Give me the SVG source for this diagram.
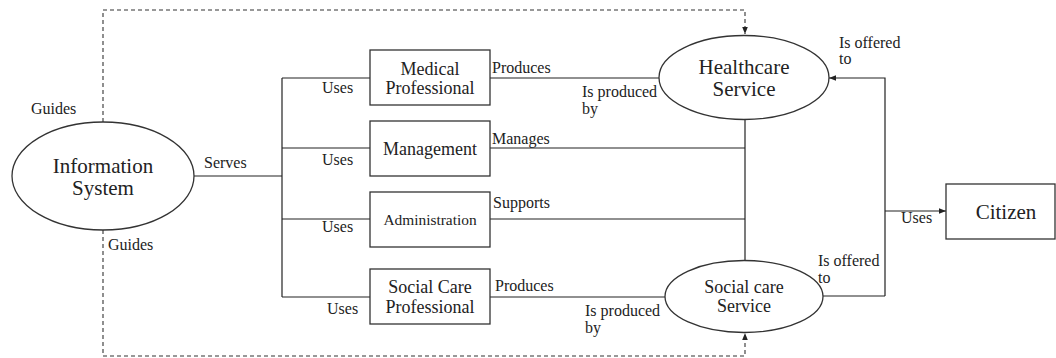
<svg xmlns="http://www.w3.org/2000/svg" width="1056" height="358" viewBox="0 0 1056 358">
<style>
.s{fill:none;stroke:#222;stroke-width:1.2}
.d{fill:none;stroke:#333;stroke-width:1.1;stroke-dasharray:4,3}
.n{fill:#fff;stroke:#333;stroke-width:1.3}
text{font-family:"Liberation Serif","Times New Roman",serif;fill:#222}
.l{font-size:16px}
.b{font-size:18px;text-anchor:middle}
.e{font-size:21px;text-anchor:middle}
</style>
<defs>
<marker id="a" viewBox="0 0 10 10" refX="10" refY="5" markerWidth="7" markerHeight="7" orient="auto" markerUnits="userSpaceOnUse"><path d="M0,1 L10,5 L0,9 z" fill="#222"/></marker>
</defs>
<g id="connectors">
<path class="d" d="M103,122 V10 H745 V34" marker-end="url(#a)"/>
<path class="d" d="M103,230 V356 H745 V333" marker-end="url(#a)"/>
<path class="s" d="M194,176 H282"/>
<path class="s" d="M282,78 V297"/>
<path class="s" d="M282,78 H370 M282,148 H370 M282,219 H370 M282,297 H370"/>
<path class="s" d="M490,78 H659"/>
<path class="s" d="M490,148 H745 M490,219 H745"/>
<path class="s" d="M745,119 V261"/>
<path class="s" d="M490,297 H665"/>
<path class="s" d="M885,296 V78 H829" marker-end="url(#a)"/>
<path class="s" d="M823,296 H885"/>
<path class="s" d="M885,211 H946" marker-end="url(#a)"/>
<text class="l" x="31" y="114">Guides</text>
<text class="l" x="108" y="250">Guides</text>
<text class="l" x="204" y="168">Serves</text>
<text class="l" x="322" y="93">Uses</text>
<text class="l" x="322" y="165">Uses</text>
<text class="l" x="322" y="232">Uses</text>
<text class="l" x="327" y="314">Uses</text>
<text class="l" x="492" y="73">Produces</text>
<text class="l" x="582" y="97">Is produced</text>
<text class="l" x="582" y="114">by</text>
<text class="l" x="492" y="144">Manages</text>
<text class="l" x="493" y="208">Supports</text>
<text class="l" x="495" y="291">Produces</text>
<text class="l" x="585" y="316">Is produced</text>
<text class="l" x="585" y="333">by</text>
<text class="l" x="839" y="48">Is offered</text>
<text class="l" x="839" y="64">to</text>
<text class="l" x="818" y="266">Is offered</text>
<text class="l" x="818" y="283">to</text>
<text class="l" x="901" y="223">Uses</text>
</g>
<g id="information-system">
<ellipse class="n" cx="103" cy="176" rx="91" ry="54"/>
<text class="e" x="103" y="173">Information</text>
<text class="e" x="103" y="195">System</text>
</g>
<g id="medical-professional">
<rect class="n" x="370" y="50" width="120" height="55"/>
<text class="b" x="430" y="75">Medical</text>
<text class="b" x="430" y="94">Professional</text>
</g>
<g id="management">
<rect class="n" x="370" y="121" width="120" height="55"/>
<text class="b" x="430" y="155">Management</text>
</g>
<g id="administration">
<rect class="n" x="370" y="192" width="120" height="55"/>
<text x="430" y="225" style="font-size:15.4px;text-anchor:middle">Administration</text>
</g>
<g id="social-care-professional">
<rect class="n" x="370" y="269" width="120" height="55"/>
<text class="b" x="430" y="293">Social Care</text>
<text class="b" x="430" y="313">Professional</text>
</g>
<g id="healthcare-service">
<ellipse class="n" cx="744" cy="77.5" rx="85" ry="42"/>
<text class="e" x="744" y="74">Healthcare</text>
<text class="e" x="744" y="96">Service</text>
</g>
<g id="social-care-service">
<ellipse class="n" cx="744" cy="296.5" rx="79" ry="36"/>
<text class="b" x="744" y="293">Social care</text>
<text class="b" x="744" y="312">Service</text>
</g>
<g id="citizen">
<rect class="n" x="946" y="184" width="109" height="55"/>
<text class="e" x="1006" y="219">Citizen</text>
</g>
</svg>
